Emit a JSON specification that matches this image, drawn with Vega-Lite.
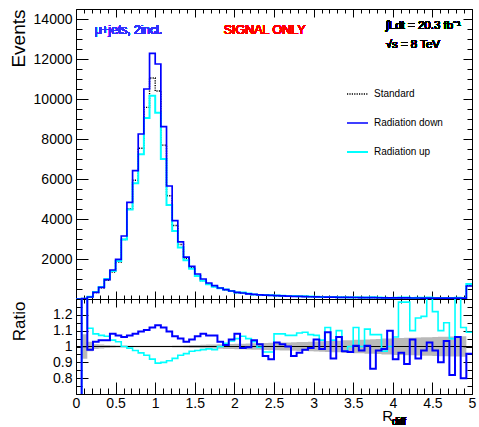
{
  "$schema": "https://vega.github.io/schema/vega-lite/v6.json",
  "autosize": {"type": "pad"},
  "padding": {"left": 8, "top": 8, "right": 0, "bottom": 0},
  "background": "white",
  "spacing": 0,
  "bounds": "flush",
  "config": {
    "view": {"stroke": "black", "strokeWidth": 1},
    "font": "Liberation Sans",
    "axis": {"grid": false, "domain": false, "tickColor": "black", "tickWidth": 1, "labelColor": "black", "labelFont": "Liberation Sans", "labelFontSize": 14, "titleFont": "Liberation Sans", "titleFontWeight": "normal", "titleColor": "black", "labelFlush": false, "labelOverlap": false, "labelBound": false}
  },
  "datasets": {
    "bins": [
      {"x": 0, "Standard": 0, "Radiation down": 0, "Radiation up": 0, "rd": 0.5, "ru": 0.5, "bLo": 1, "bHi": 1},
      {"x": 0.0714, "Standard": 8, "Radiation down": 15, "Radiation up": 10, "rd": 1.5, "ru": 1.5, "bLo": 0.922, "bHi": 1.078},
      {"x": 0.1429, "Standard": 102, "Radiation down": 100, "Radiation up": 114, "rd": 0.98, "ru": 1.115, "bLo": 0.97, "bHi": 1.03},
      {"x": 0.2143, "Standard": 323, "Radiation down": 333, "Radiation up": 349, "rd": 1.03, "ru": 1.08, "bLo": 0.985, "bHi": 1.015},
      {"x": 0.2857, "Standard": 561, "Radiation down": 583, "Radiation up": 600, "rd": 1.04, "ru": 1.07, "bLo": 0.988, "bHi": 1.012},
      {"x": 0.3571, "Standard": 933, "Radiation down": 970, "Radiation up": 994, "rd": 1.04, "ru": 1.065, "bLo": 0.99, "bHi": 1.01},
      {"x": 0.4286, "Standard": 1343, "Radiation down": 1450, "Radiation up": 1397, "rd": 1.08, "ru": 1.04, "bLo": 0.992, "bHi": 1.008},
      {"x": 0.5, "Standard": 1850, "Radiation down": 1980, "Radiation up": 1906, "rd": 1.07, "ru": 1.03, "bLo": 0.993, "bHi": 1.007},
      {"x": 0.5714, "Standard": 2972, "Radiation down": 3150, "Radiation up": 2972, "rd": 1.06, "ru": 1.0, "bLo": 0.994, "bHi": 1.006},
      {"x": 0.6429, "Standard": 4517, "Radiation down": 4833, "Radiation up": 4472, "rd": 1.07, "ru": 0.99, "bLo": 0.995, "bHi": 1.005},
      {"x": 0.7143, "Standard": 5940, "Radiation down": 6415, "Radiation up": 5792, "rd": 1.08, "ru": 0.975, "bLo": 0.995, "bHi": 1.005},
      {"x": 0.7857, "Standard": 7534, "Radiation down": 8250, "Radiation up": 7233, "rd": 1.095, "ru": 0.96, "bLo": 0.995, "bHi": 1.005},
      {"x": 0.8571, "Standard": 9580, "Radiation down": 10500, "Radiation up": 9053, "rd": 1.105, "ru": 0.945, "bLo": 0.995, "bHi": 1.005},
      {"x": 0.9286, "Standard": 11050, "Radiation down": 12283, "Radiation up": 10166, "rd": 1.12, "ru": 0.92, "bLo": 0.995, "bHi": 1.005},
      {"x": 1.0, "Standard": 10400, "Radiation down": 11750, "Radiation up": 9308, "rd": 1.135, "ru": 0.895, "bLo": 0.995, "bHi": 1.005},
      {"x": 1.0714, "Standard": 7692, "Radiation down": 8615, "Radiation up": 7000, "rd": 1.12, "ru": 0.9, "bLo": 0.995, "bHi": 1.005},
      {"x": 1.1429, "Standard": 5160, "Radiation down": 5650, "Radiation up": 4696, "rd": 1.095, "ru": 0.91, "bLo": 0.995, "bHi": 1.005},
      {"x": 1.2143, "Standard": 3676, "Radiation down": 3915, "Radiation up": 3400, "rd": 1.065, "ru": 0.925, "bLo": 0.994, "bHi": 1.006},
      {"x": 1.2857, "Standard": 2724, "Radiation down": 2860, "Radiation up": 2574, "rd": 1.05, "ru": 0.945, "bLo": 0.993, "bHi": 1.007},
      {"x": 1.3571, "Standard": 2029, "Radiation down": 2090, "Radiation up": 1938, "rd": 1.03, "ru": 0.955, "bLo": 0.992, "bHi": 1.008},
      {"x": 1.4286, "Standard": 1563, "Radiation down": 1633, "Radiation up": 1516, "rd": 1.045, "ru": 0.97, "bLo": 0.991, "bHi": 1.009},
      {"x": 1.5, "Standard": 1174, "Radiation down": 1250, "Radiation up": 1145, "rd": 1.065, "ru": 0.975, "bLo": 0.99, "bHi": 1.01},
      {"x": 1.5714, "Standard": 926, "Radiation down": 1000, "Radiation up": 907, "rd": 1.08, "ru": 0.98, "bLo": 0.989, "bHi": 1.011},
      {"x": 1.6429, "Standard": 748, "Radiation down": 800, "Radiation up": 737, "rd": 1.07, "ru": 0.985, "bLo": 0.988, "bHi": 1.012},
      {"x": 1.7143, "Standard": 621, "Radiation down": 665, "Radiation up": 609, "rd": 1.07, "ru": 0.98, "bLo": 0.987, "bHi": 1.013},
      {"x": 1.7857, "Standard": 534, "Radiation down": 550, "Radiation up": 534, "rd": 1.03, "ru": 1.0, "bLo": 0.986, "bHi": 1.014},
      {"x": 1.8571, "Standard": 460, "Radiation down": 465, "Radiation up": 469, "rd": 1.01, "ru": 1.02, "bLo": 0.985, "bHi": 1.015},
      {"x": 1.9286, "Standard": 383, "Radiation down": 400, "Radiation up": 396, "rd": 1.045, "ru": 1.035, "bLo": 0.984, "bHi": 1.016},
      {"x": 2.0, "Standard": 310, "Radiation down": 335, "Radiation up": 326, "rd": 1.08, "ru": 1.05, "bLo": 0.983, "bHi": 1.017},
      {"x": 2.0714, "Standard": 303, "Radiation down": 300, "Radiation up": 323, "rd": 0.99, "ru": 1.065, "bLo": 0.982, "bHi": 1.018},
      {"x": 2.1429, "Standard": 256, "Radiation down": 255, "Radiation up": 269, "rd": 0.995, "ru": 1.05, "bLo": 0.981, "bHi": 1.019},
      {"x": 2.2143, "Standard": 221, "Radiation down": 230, "Radiation up": 228, "rd": 1.04, "ru": 1.03, "bLo": 0.98, "bHi": 1.02},
      {"x": 2.2857, "Standard": 207, "Radiation down": 210, "Radiation up": 206, "rd": 1.015, "ru": 0.995, "bLo": 0.979, "bHi": 1.021},
      {"x": 2.3571, "Standard": 207, "Radiation down": 195, "Radiation up": 200, "rd": 0.94, "ru": 0.965, "bLo": 0.978, "bHi": 1.022},
      {"x": 2.4286, "Standard": 196, "Radiation down": 180, "Radiation up": 189, "rd": 0.92, "ru": 0.965, "bLo": 0.977, "bHi": 1.023},
      {"x": 2.5, "Standard": 161, "Radiation down": 165, "Radiation up": 174, "rd": 1.025, "ru": 1.08, "bLo": 0.976, "bHi": 1.024},
      {"x": 2.5714, "Standard": 153, "Radiation down": 155, "Radiation up": 165, "rd": 1.015, "ru": 1.08, "bLo": 0.975, "bHi": 1.025},
      {"x": 2.6429, "Standard": 145, "Radiation down": 145, "Radiation up": 155, "rd": 1.0, "ru": 1.07, "bLo": 0.974, "bHi": 1.026},
      {"x": 2.7143, "Standard": 144, "Radiation down": 135, "Radiation up": 154, "rd": 0.94, "ru": 1.07, "bLo": 0.973, "bHi": 1.027},
      {"x": 2.7857, "Standard": 132, "Radiation down": 127, "Radiation up": 143, "rd": 0.96, "ru": 1.085, "bLo": 0.972, "bHi": 1.028},
      {"x": 2.8571, "Standard": 122, "Radiation down": 120, "Radiation up": 133, "rd": 0.98, "ru": 1.09, "bLo": 0.971, "bHi": 1.029},
      {"x": 2.9286, "Standard": 114, "Radiation down": 113, "Radiation up": 123, "rd": 0.99, "ru": 1.075, "bLo": 0.97, "bHi": 1.03},
      {"x": 3.0, "Standard": 102, "Radiation down": 107, "Radiation up": 109, "rd": 1.045, "ru": 1.07, "bLo": 0.969, "bHi": 1.031},
      {"x": 3.0714, "Standard": 102, "Radiation down": 100, "Radiation up": 106, "rd": 0.985, "ru": 1.04, "bLo": 0.967, "bHi": 1.033},
      {"x": 3.1429, "Standard": 87, "Radiation down": 95, "Radiation up": 97, "rd": 1.09, "ru": 1.12, "bLo": 0.966, "bHi": 1.034},
      {"x": 3.2143, "Standard": 97, "Radiation down": 90, "Radiation up": 101, "rd": 0.925, "ru": 1.04, "bLo": 0.964, "bHi": 1.036},
      {"x": 3.2857, "Standard": 81, "Radiation down": 86, "Radiation up": 89, "rd": 1.06, "ru": 1.1, "bLo": 0.963, "bHi": 1.037},
      {"x": 3.3571, "Standard": 85, "Radiation down": 82, "Radiation up": 82, "rd": 0.97, "ru": 0.97, "bLo": 0.961, "bHi": 1.039},
      {"x": 3.4286, "Standard": 81, "Radiation down": 78, "Radiation up": 81, "rd": 0.965, "ru": 1.0, "bLo": 0.96, "bHi": 1.04},
      {"x": 3.5, "Standard": 75, "Radiation down": 75, "Radiation up": 84, "rd": 1.005, "ru": 1.12, "bLo": 0.958, "bHi": 1.042},
      {"x": 3.5714, "Standard": 74, "Radiation down": 72, "Radiation up": 74, "rd": 0.975, "ru": 1.0, "bLo": 0.957, "bHi": 1.043},
      {"x": 3.6429, "Standard": 69, "Radiation down": 69, "Radiation up": 77, "rd": 1.005, "ru": 1.11, "bLo": 0.955, "bHi": 1.045},
      {"x": 3.7143, "Standard": 77, "Radiation down": 66, "Radiation up": 83, "rd": 0.86, "ru": 1.075, "bLo": 0.954, "bHi": 1.046},
      {"x": 3.7857, "Standard": 65, "Radiation down": 63, "Radiation up": 70, "rd": 0.975, "ru": 1.075, "bLo": 0.952, "bHi": 1.048},
      {"x": 3.8571, "Standard": 62, "Radiation down": 61, "Radiation up": 60, "rd": 0.985, "ru": 0.97, "bLo": 0.95, "bHi": 1.05},
      {"x": 3.9286, "Standard": 54, "Radiation down": 59, "Radiation up": 54, "rd": 1.1, "ru": 1.0, "bLo": 0.949, "bHi": 1.051},
      {"x": 4.0, "Standard": 62, "Radiation down": 57, "Radiation up": 66, "rd": 0.92, "ru": 1.06, "bLo": 0.947, "bHi": 1.053},
      {"x": 4.0714, "Standard": 57, "Radiation down": 55, "Radiation up": 73, "rd": 0.96, "ru": 1.28, "bLo": 0.946, "bHi": 1.054},
      {"x": 4.1429, "Standard": 60, "Radiation down": 53, "Radiation up": 77, "rd": 0.89, "ru": 1.28, "bLo": 0.945, "bHi": 1.055},
      {"x": 4.2143, "Standard": 49, "Radiation down": 51, "Radiation up": 54, "rd": 1.045, "ru": 1.1, "bLo": 0.944, "bHi": 1.056},
      {"x": 4.2857, "Standard": 54, "Radiation down": 50, "Radiation up": 64, "rd": 0.925, "ru": 1.18, "bLo": 0.943, "bHi": 1.057},
      {"x": 4.3571, "Standard": 49, "Radiation down": 48, "Radiation up": 58, "rd": 0.975, "ru": 1.19, "bLo": 0.942, "bHi": 1.058},
      {"x": 4.4286, "Standard": 46, "Radiation down": 47, "Radiation up": 69, "rd": 1.025, "ru": 1.5, "bLo": 0.941, "bHi": 1.059},
      {"x": 4.5, "Standard": 46, "Radiation down": 45, "Radiation up": 56, "rd": 0.975, "ru": 1.22, "bLo": 0.94, "bHi": 1.06},
      {"x": 4.5714, "Standard": 49, "Radiation down": 44, "Radiation up": 54, "rd": 0.9, "ru": 1.1, "bLo": 0.939, "bHi": 1.061},
      {"x": 4.6429, "Standard": 42, "Radiation down": 43, "Radiation up": 48, "rd": 1.035, "ru": 1.15, "bLo": 0.938, "bHi": 1.062},
      {"x": 4.7143, "Standard": 51, "Radiation down": 42, "Radiation up": 54, "rd": 0.82, "ru": 1.05, "bLo": 0.937, "bHi": 1.063},
      {"x": 4.7857, "Standard": 39, "Radiation down": 41, "Radiation up": 58, "rd": 1.06, "ru": 1.5, "bLo": 0.937, "bHi": 1.063},
      {"x": 4.8571, "Standard": 50, "Radiation down": 40, "Radiation up": 56, "rd": 0.8, "ru": 1.12, "bLo": 0.936, "bHi": 1.064},
      {"x": 4.9286, "Standard": 690, "Radiation down": 650, "Radiation up": 750, "rd": 0.955, "ru": 1.09, "bLo": 1, "bHi": 1},
      {"x": 5.0, "Standard": 690, "Radiation down": 650, "Radiation up": 750, "rd": 0.955, "ru": 1.09, "bLo": 1, "bHi": 1}
    ]
  },
  "vconcat": [
    {
      "width": 396,
      "height": 290,
      "data": {"name": "bins"},
      "layer": [
        {
          "transform": [{"fold": ["Standard", "Radiation up", "Radiation down"], "as": ["key", "val"]}],
          "mark": {"type": "line", "interpolate": "step-after", "clip": true},
          "encoding": {
            "x": {"field": "x", "type": "quantitative", "scale": {"domain": [0, 5], "nice": false, "zero": false},
              "axis": {"orient": "bottom", "values": [0,0.1,0.2,0.3,0.4,0.5,0.6,0.7,0.8,0.9,1,1.1,1.2,1.3,1.4,1.5,1.6,1.7,1.8,1.9,2,2.1,2.2,2.3,2.4,2.5,2.6,2.7,2.8,2.9,3,3.1,3.2,3.3,3.4,3.5,3.6,3.7,3.8,3.9,4,4.1,4.2,4.3,4.4,4.5,4.6,4.7,4.8,4.9,5], "labels": false, "title": null,
                "tickSize": {"condition": {"test": "abs(datum.value*2-round(datum.value*2))<0.001", "value": -8}, "value": -4}}},
            "y": {"field": "val", "type": "quantitative", "scale": {"domain": [0, 14500], "nice": false},
              "axis": {"orient": "left", "values": [0,500,1000,1500,2000,2500,3000,3500,4000,4500,5000,5500,6000,6500,7000,7500,8000,8500,9000,9500,10000,10500,11000,11500,12000,12500,13000,13500,14000,14500], "labels": false, "title": null,
                "tickSize": {"condition": {"test": "datum.value%2000==0", "value": -12}, "value": -6}}},
            "color": {"field": "key", "type": "nominal",
              "scale": {"domain": ["Standard", "Radiation down", "Radiation up"], "range": ["#000000", "#0000ff", "#00ffff"]},
              "legend": {"title": null, "orient": "none", "legendX": 270, "legendY": 73.5, "symbolType": "stroke", "symbolSize": 441, "symbolStrokeWidth": 1.5, "labelFontSize": 10, "labelFont": "Liberation Sans", "labelColor": "black", "rowPadding": 12, "labelOffset": 5, "padding": 0}},
            "strokeDash": {"field": "key", "type": "nominal",
              "scale": {"domain": ["Standard", "Radiation down", "Radiation up"], "range": [[1.2, 1.2], [1, 0], [1, 0]]},
              "legend": {"title": null, "orient": "none", "legendX": 270, "legendY": 73.5, "symbolType": "stroke", "symbolSize": 441, "symbolStrokeWidth": 1.5, "labelFontSize": 10, "labelFont": "Liberation Sans", "labelColor": "black", "rowPadding": 12, "labelOffset": 5, "padding": 0}},
            "strokeWidth": {"field": "key", "type": "nominal", "scale": {"domain": ["Standard", "Radiation down", "Radiation up"], "range": [1.4, 2, 1.6]}, "legend": null}
          }
        },
        {
          "mark": {"type": "text", "text": "μ+jets, 2incl.", "align": "left", "baseline": "middle", "fontSize": 12, "color": "#3030ff", "font": "Liberation Sans"},
          "encoding": {
            "x": {"datum": 0.236, "type": "quantitative", "scale": {"domain": [0, 5], "nice": false, "zero": false},
              "axis": {"orient": "top", "values": [0,0.1,0.2,0.3,0.4,0.5,0.6,0.7,0.8,0.9,1,1.1,1.2,1.3,1.4,1.5,1.6,1.7,1.8,1.9,2,2.1,2.2,2.3,2.4,2.5,2.6,2.7,2.8,2.9,3,3.1,3.2,3.3,3.4,3.5,3.6,3.7,3.8,3.9,4,4.1,4.2,4.3,4.4,4.5,4.6,4.7,4.8,4.9,5], "labels": false, "title": null,
                "tickSize": {"condition": {"test": "abs(datum.value*2-round(datum.value*2))<0.001", "value": -8}, "value": -4}}},
            "y": {"datum": 13450, "type": "quantitative", "scale": {"domain": [0, 14500], "nice": false},
              "axis": {"orient": "right", "values": [0,500,1000,1500,2000,2500,3000,3500,4000,4500,5000,5500,6000,6500,7000,7500,8000,8500,9000,9500,10000,10500,11000,11500,12000,12500,13000,13500,14000,14500], "labels": false, "title": null,
                "tickSize": {"condition": {"test": "datum.value%2000==0", "value": -9}, "value": -5}}}
          }
        },
        {
          "mark": {"type": "text", "text": "SIGNAL ONLY", "align": "right", "baseline": "middle", "fontSize": 12.5, "color": "#ff0000", "font": "Liberation Sans"},
          "encoding": {
            "x": {"datum": 2.9, "type": "quantitative", "axis": null},
            "y": {"datum": 13460, "type": "quantitative", "scale": {"domain": [0, 14500], "nice": false},
              "axis": {"orient": "left", "values": [2000,4000,6000,8000,10000,12000,14000], "format": "d", "ticks": false, "tickSize": 0, "labelPadding": 4,
                "title": "Events", "titleFontSize": 19, "titleAngle": 270, "titleAlign": "right", "titleBaseline": "alphabetic", "titleX": -52, "titleY": 0}}
          }
        },
        {
          "mark": {"type": "text", "text": "∫Ldt = 20.3 fb⁻¹", "align": "left", "baseline": "middle", "fontSize": 11.5, "color": "black", "font": "Liberation Sans"},
          "encoding": {
            "x": {"datum": 3.91, "type": "quantitative", "axis": null},
            "y": {"datum": 13640, "type": "quantitative", "axis": null}
          }
        },
        {
          "mark": {"type": "text", "text": "√s = 8 TeV", "align": "left", "baseline": "middle", "fontSize": 11.5, "color": "black", "font": "Liberation Sans"},
          "encoding": {
            "x": {"datum": 3.91, "type": "quantitative", "axis": null},
            "y": {"datum": 12700, "type": "quantitative", "axis": null}
          }
        }
      ],
      "resolve": {"axis": {"x": "independent", "y": "independent"}}
    },
    {
      "width": 396,
      "height": 95,
      "data": {"name": "bins"},
      "layer": [
        {
          "mark": {"type": "area", "interpolate": "step-after", "color": "#a8a8a8", "opacity": 0.8, "clip": true},
          "encoding": {
            "x": {"field": "x", "type": "quantitative", "scale": {"domain": [0, 5], "nice": false, "zero": false},
              "axis": {"orient": "bottom", "values": [0,0.1,0.2,0.3,0.4,0.5,0.6,0.7,0.8,0.9,1,1.1,1.2,1.3,1.4,1.5,1.6,1.7,1.8,1.9,2,2.1,2.2,2.3,2.4,2.5,2.6,2.7,2.8,2.9,3,3.1,3.2,3.3,3.4,3.5,3.6,3.7,3.8,3.9,4,4.1,4.2,4.3,4.4,4.5,4.6,4.7,4.8,4.9,5], "labels": false, "title": null,
                "tickSize": {"condition": {"test": "abs(datum.value*2-round(datum.value*2))<0.001", "value": -12}, "value": -6}}},
            "y": {"field": "bLo", "type": "quantitative", "scale": {"domain": [0.7, 1.3], "nice": false, "zero": false},
              "axis": {"orient": "left", "values": [0.7,0.75,0.8,0.85,0.9,0.95,1,1.05,1.1,1.15,1.2,1.25,1.3], "labels": false, "title": null,
                "tickSize": {"condition": {"test": "abs(datum.value*10-round(datum.value*10))<0.001", "value": -12}, "value": -6}}},
            "y2": {"field": "bHi"}
          }
        },
        {
          "mark": {"type": "rule", "color": "black", "strokeWidth": 1.2},
          "encoding": {"y": {"datum": 1, "type": "quantitative", "axis": null}}
        },
        {
          "mark": {"type": "line", "interpolate": "step-after", "color": "#00ffff", "strokeWidth": 1.6, "clip": true},
          "encoding": {
            "x": {"field": "x", "type": "quantitative", "scale": {"domain": [0, 5], "nice": false, "zero": false},
              "axis": {"orient": "bottom", "values": [0,0.5,1,1.5,2,2.5,3,3.5,4,4.5,5], "format": "~g", "ticks": false, "tickSize": 0, "labelPadding": 2,
                "title": "R", "titleFontSize": 15, "titleAngle": 0, "titleAlign": "left", "titleBaseline": "alphabetic", "titleX": 305.7, "titleY": 26.7}},
            "y": {"field": "ru", "type": "quantitative", "scale": {"domain": [0.7, 1.3], "nice": false, "zero": false},
              "axis": {"orient": "left", "values": [0.8,0.9,1,1.1,1.2], "format": "~g", "ticks": false, "tickSize": 0, "labelPadding": 4,
                "title": "Ratio", "titleFontSize": 17, "titleAngle": 270, "titleAlign": "right", "titleBaseline": "alphabetic", "titleX": -52, "titleY": 2}}
          }
        },
        {
          "mark": {"type": "line", "interpolate": "step-after", "color": "#0000ff", "strokeWidth": 2, "clip": true},
          "encoding": {
            "x": {"field": "x", "type": "quantitative", "axis": null},
            "y": {"field": "rd", "type": "quantitative", "axis": null}
          }
        },
        {
          "mark": {"type": "text", "text": "diff", "align": "left", "baseline": "alphabetic", "fontSize": 10.5, "dy": 31, "color": "black", "font": "Liberation Sans"},
          "encoding": {
            "x": {"datum": 3.99, "type": "quantitative", "scale": {"domain": [0, 5], "nice": false, "zero": false},
              "axis": {"orient": "top", "values": [0,0.1,0.2,0.3,0.4,0.5,0.6,0.7,0.8,0.9,1,1.1,1.2,1.3,1.4,1.5,1.6,1.7,1.8,1.9,2,2.1,2.2,2.3,2.4,2.5,2.6,2.7,2.8,2.9,3,3.1,3.2,3.3,3.4,3.5,3.6,3.7,3.8,3.9,4,4.1,4.2,4.3,4.4,4.5,4.6,4.7,4.8,4.9,5], "labels": false, "title": null,
                "tickSize": {"condition": {"test": "abs(datum.value*2-round(datum.value*2))<0.001", "value": -8}, "value": -4}}},
            "y": {"datum": 0.7, "type": "quantitative", "scale": {"domain": [0.7, 1.3], "nice": false, "zero": false},
              "axis": {"orient": "right", "values": [0.7,0.75,0.8,0.85,0.9,0.95,1,1.05,1.1,1.15,1.2,1.25,1.3], "labels": false, "title": null,
                "tickSize": {"condition": {"test": "abs(datum.value*10-round(datum.value*10))<0.001", "value": -9}, "value": -5}}}
          }
        }
      ],
      "resolve": {"axis": {"x": "independent", "y": "independent"}}
    }
  ]
}
